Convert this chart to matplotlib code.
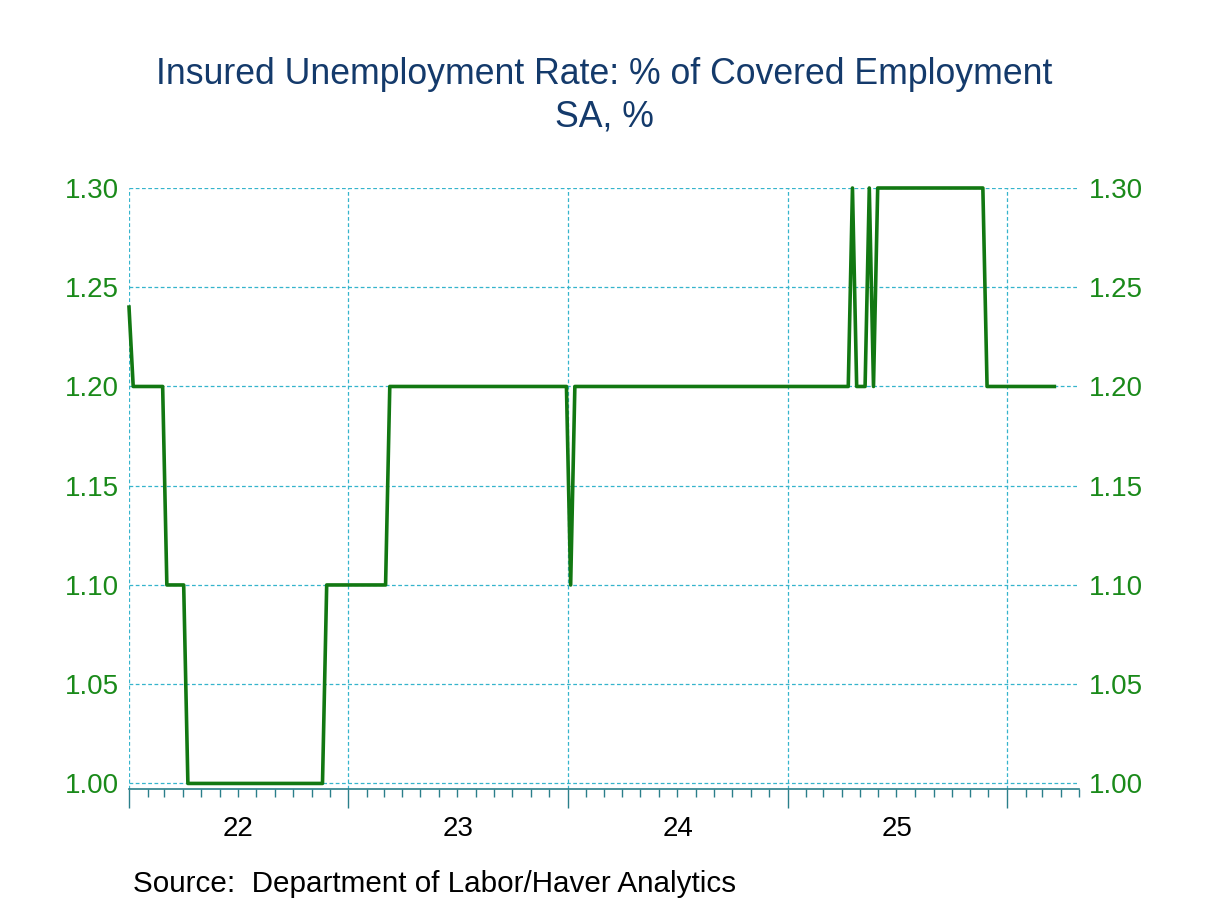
import numpy as np
import pandas as pd
import matplotlib
matplotlib.use("Agg")
import matplotlib.pyplot as plt
import matplotlib.dates as mdates
import matplotlib.transforms as mtransforms

plt.rcParams['font.family'] = ['Liberation Sans', 'DejaVu Sans']

# weekly data (weeks ending Saturday), stored as runs of equal readings
start_week = "2022-01-01"
run_levels = [1.24, 1.2, 1.1, 1.0, 1.1, 1.2, 1.1, 1.2, 1.3, 1.2, 1.3, 1.2, 1.3, 1.2]
run_weeks = [1, 8, 5, 33, 15, 43, 1, 66, 1, 3, 1, 1, 26, 17]

rate = np.repeat(run_levels, run_weeks)
weeks = pd.date_range(start_week, periods=len(rate), freq="7D")

year_labels = ["22", "23", "24", "25"]
label_years = [2022, 2023, 2024, 2025]
y_ticks = [1.00, 1.05, 1.10, 1.15, 1.20, 1.25, 1.30]

line_col = "#127812"
lab_col = "#1a8a1a"
grid_col = "#35b4cc"
axis_col = "#2a7f8a"
title_col = "#143a6b"

fig = plt.figure(figsize=(12.08, 9.06), dpi=100)
ax = fig.add_axes([129 / 1208, 1 - 789 / 906, 950 / 1208, (789 - 188) / 906])

ax.plot(weeks, rate, color=line_col, lw=2.6, clip_on=False, zorder=3)

ax.set_xlim(pd.Timestamp("2022-01-01"), pd.Timestamp("2026-05-01"))
ax.set_ylim(0.9972, 1.30)

# y axis: labels on both sides, no tick marks
ax.set_yticks(y_ticks)
ax.set_yticklabels([f"{v:.2f}" for v in y_ticks])
ax.tick_params(axis="y", which="both", length=0, pad=7, labelsize=20,
               labelcolor=lab_col, left=False, right=False,
               labelleft=True, labelright=True)

# x axis: long ticks at years, short at months, labels mid-year
ax.xaxis.set_major_locator(mdates.YearLocator())
ax.xaxis.set_minor_locator(mdates.MonthLocator())
ax.xaxis.set_major_formatter(plt.NullFormatter())
ax.tick_params(axis="x", which="major", direction="out", length=14, width=1,
               color=axis_col)
ax.tick_params(axis="x", which="minor", direction="out", length=6, width=1,
               color=axis_col)

trans = mtransforms.blended_transform_factory(ax.transData, ax.transAxes)
for yr, lab in zip(label_years, year_labels):
    mid = mdates.date2num(pd.Timestamp(f"{yr}-07-02"))
    ax.text(mid, -0.045, lab, transform=trans, ha="center", va="top",
            fontsize=20, color="black")

ax.grid(True, which="major", axis="both", color=grid_col, ls=(0, (3, 2)), lw=0.9)
ax.set_axisbelow(True)

for s in ["top", "left", "right"]:
    ax.spines[s].set_visible(False)
ax.spines["bottom"].set_color(axis_col)
ax.spines["bottom"].set_linewidth(1.2)

fig.text(0.5, 1 - 75 / 906, "Insured Unemployment Rate: % of Covered Employment",
         ha="center", va="center", fontsize=25.7, color=title_col)
fig.text(0.5, 1 - 117 / 906, "SA, %", ha="center", va="center",
         fontsize=25.7, color=title_col)
fig.text(133 / 1208, 1 - 884 / 906, "Source:  Department of Labor/Haver Analytics",
         ha="left", va="center", fontsize=21.3, color="black")

fig.savefig("out.png", dpi=100)
